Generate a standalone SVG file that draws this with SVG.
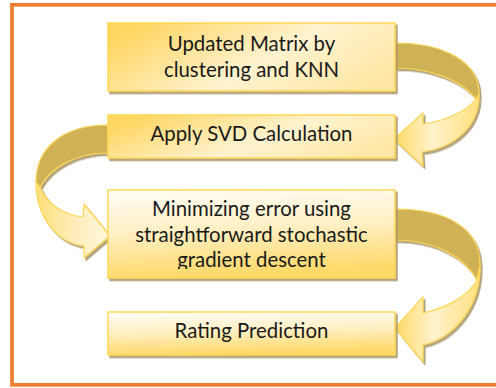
<svg xmlns="http://www.w3.org/2000/svg" width="496" height="388" viewBox="0 0 496 388">
<defs>
<style>
.box{stroke:#FFD754;stroke-width:1.5;filter:url(#sh)}
.txt{font-family:Lato,"Liberation Sans",sans-serif;font-size:20.4px;fill:#1a1a1a;text-anchor:middle}
.dark{fill:#CFB257;stroke:#FFD754;stroke-width:1.2;stroke-linejoin:round}
.light{stroke:#FFD754;stroke-width:1.2;stroke-linejoin:round}
</style>
<filter id="sh" x="-10%" y="-10%" width="120%" height="130%">
<feDropShadow dx="2" dy="2.5" stdDeviation="0.6" flood-color="#A8976A" flood-opacity="0.85"/>
</filter>
<linearGradient id="gh" x1="0" y1="0.3" x2="1" y2="0.7">
<stop offset="0" stop-color="#FFD662"/>
<stop offset="0.55" stop-color="#FFF2CF"/>
<stop offset="1" stop-color="#FFE8A6"/>
</linearGradient>
<linearGradient id="gv" x1="0" y1="0" x2="0.15" y2="1">
<stop offset="0" stop-color="#FFFDF7"/>
<stop offset="0.5" stop-color="#FFEFC2"/>
<stop offset="1" stop-color="#FFD96A"/>
</linearGradient>
<linearGradient id="ga" x1="0" y1="0" x2="1" y2="0">
<stop offset="0" stop-color="#FFD966"/>
<stop offset="0.45" stop-color="#FFF2CC"/>
<stop offset="1" stop-color="#FFE17E"/>
</linearGradient>
<linearGradient id="gb" x1="1" y1="0" x2="0" y2="0">
<stop offset="0" stop-color="#FFF6DE"/>
<stop offset="0.5" stop-color="#FFEDB8"/>
<stop offset="1" stop-color="#FFE07A"/>
</linearGradient>
<clipPath id="c3"><rect x="108" y="190" width="287" height="79"/></clipPath>
</defs>
<rect x="12" y="4.8" width="490" height="380" fill="#FFFFFF" stroke="#ED7D31" stroke-width="3.7"/>
<g id="connectors">
<g id="arrow1" filter="url(#sh)">
<path class="dark" d="M395,43 C445,43 479,62 479,94 L476,99 C462,80 430,68 395,68 Z"/>
<path class="light" fill="url(#ga)" d="M479,94 C480,125 455,148 422,152 L423,166 L394,139 L423,113 L423,124 C445,121 466,112 476,99 Z"/>
</g>
<g id="arrow2" filter="url(#sh)">
<path class="dark" d="M108,125 C60,125 36,150 36,182 L40,187 C50,168 75,153 108,153 Z"/>
<path class="light" fill="url(#gb)" d="M36,182 C36,217 57,243 84,246 L84,258 L110,236 L84,204 L83,217 C62,215 47,203 40,187 Z"/>
</g>
<g id="arrow3" filter="url(#sh)">
<path class="dark" d="M395,209 C450,209 480,230 480,265 L477,280 C465,257 435,240 395,240 Z"/>
<path class="light" fill="url(#ga)" d="M480,265 C481,305 455,338 423,345 L423,362 L395,328 L423,297 L423,313 C447,308 468,296 477,280 Z"/>
</g>
</g>
<g id="node1">
<rect class="box" x="108" y="23" width="287" height="68" fill="url(#gh)"/>
<text class="txt" x="251.5" y="50.5">Updated Matrix by</text>
<text class="txt" x="251.5" y="76.5">clustering and KNN</text>
</g>
<g id="node2">
<rect class="box" x="108" y="115" width="287" height="43" fill="url(#gh)"/>
<text class="txt" x="251.5" y="140.5">Apply SVD Calculation</text>
</g>
<g id="node3">
<rect class="box" x="108" y="190" width="287" height="88" fill="url(#gv)"/>
<g clip-path="url(#c3)">
<text class="txt" x="251.5" y="216">Minimizing error using</text>
<text class="txt" x="251.5" y="241.5">straightforward stochastic</text>
<text class="txt" x="251.5" y="267">gradient descent</text>
</g>
</g>
<g id="node4">
<rect class="box" x="108" y="312" width="287" height="43" fill="url(#gv)"/>
<text class="txt" x="251.5" y="337.5">Rating Prediction</text>
</g>
</svg>
